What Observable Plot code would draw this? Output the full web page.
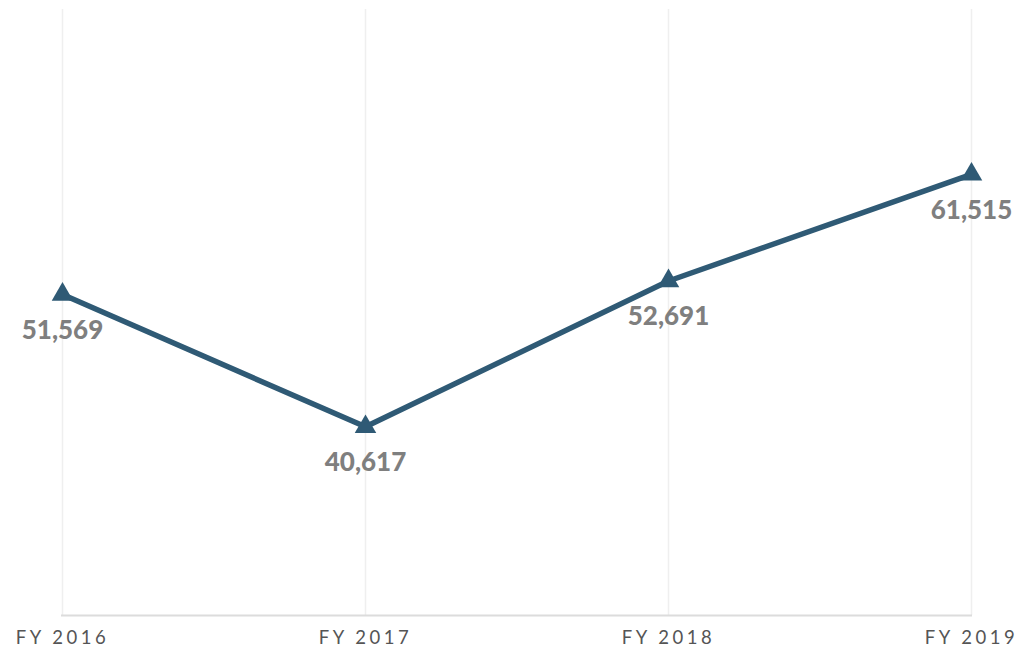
<!DOCTYPE html>
<html>
<head>
<meta charset="utf-8">
<script src="https://cdn.jsdelivr.net/npm/d3@7"></script>
<script src="https://cdn.jsdelivr.net/npm/@observablehq/plot@0.6"></script>
<style>
  html, body { margin: 0; padding: 0; background: #fff; }
  g[aria-label="x-axis tick label"] text { letter-spacing: 3.5px; }
</style>
</head>
<body>
<div id="chart"></div>
<script>
const years = ["FY 2016", "FY 2017", "FY 2018", "FY 2019"];
const values = [51569, 40617, 52691, 61515];

const data = years.map((year, i) => ({ year, value: values[i] }));
const lineColor = "#2f5a75";

const chart = Plot.plot({
  width: 1026,
  height: 651,
  marginLeft: 61,
  marginRight: 54,
  marginTop: 11,
  marginBottom: 36,
  style: { fontFamily: "Lato, 'Open Sans', sans-serif", background: "#fff" },
  x: { type: "point", domain: years, padding: 0 },
  y: { domain: [25000, 75000], axis: null, clamp: false },
  marks: [
    Plot.gridX(years, { stroke: "#efefef", strokeOpacity: 1, strokeWidth: 1.5, y1: 75160, y2: 25000 }),
    Plot.ruleY([25000], { stroke: "#dcdcdc", strokeWidth: 2 }),
    Plot.axisX({ tickSize: 0, tickPadding: 15, fontSize: 18.5, fill: "#555", label: null }),
    Plot.line(data, { x: "year", y: "value", stroke: lineColor, strokeWidth: 5.5 }),
    Plot.dot(data, { x: "year", y: "value", symbol: "triangle", r: 8, fill: lineColor }),
    Plot.text(data, {
      x: "year", y: "value", text: d => d3.format(",")(d.value),
      dy: 36, fontSize: 26, fontWeight: 900, fill: "#7f7f7f"
    })
  ]
});
document.getElementById("chart").append(chart);
</script>
</body>
</html>
